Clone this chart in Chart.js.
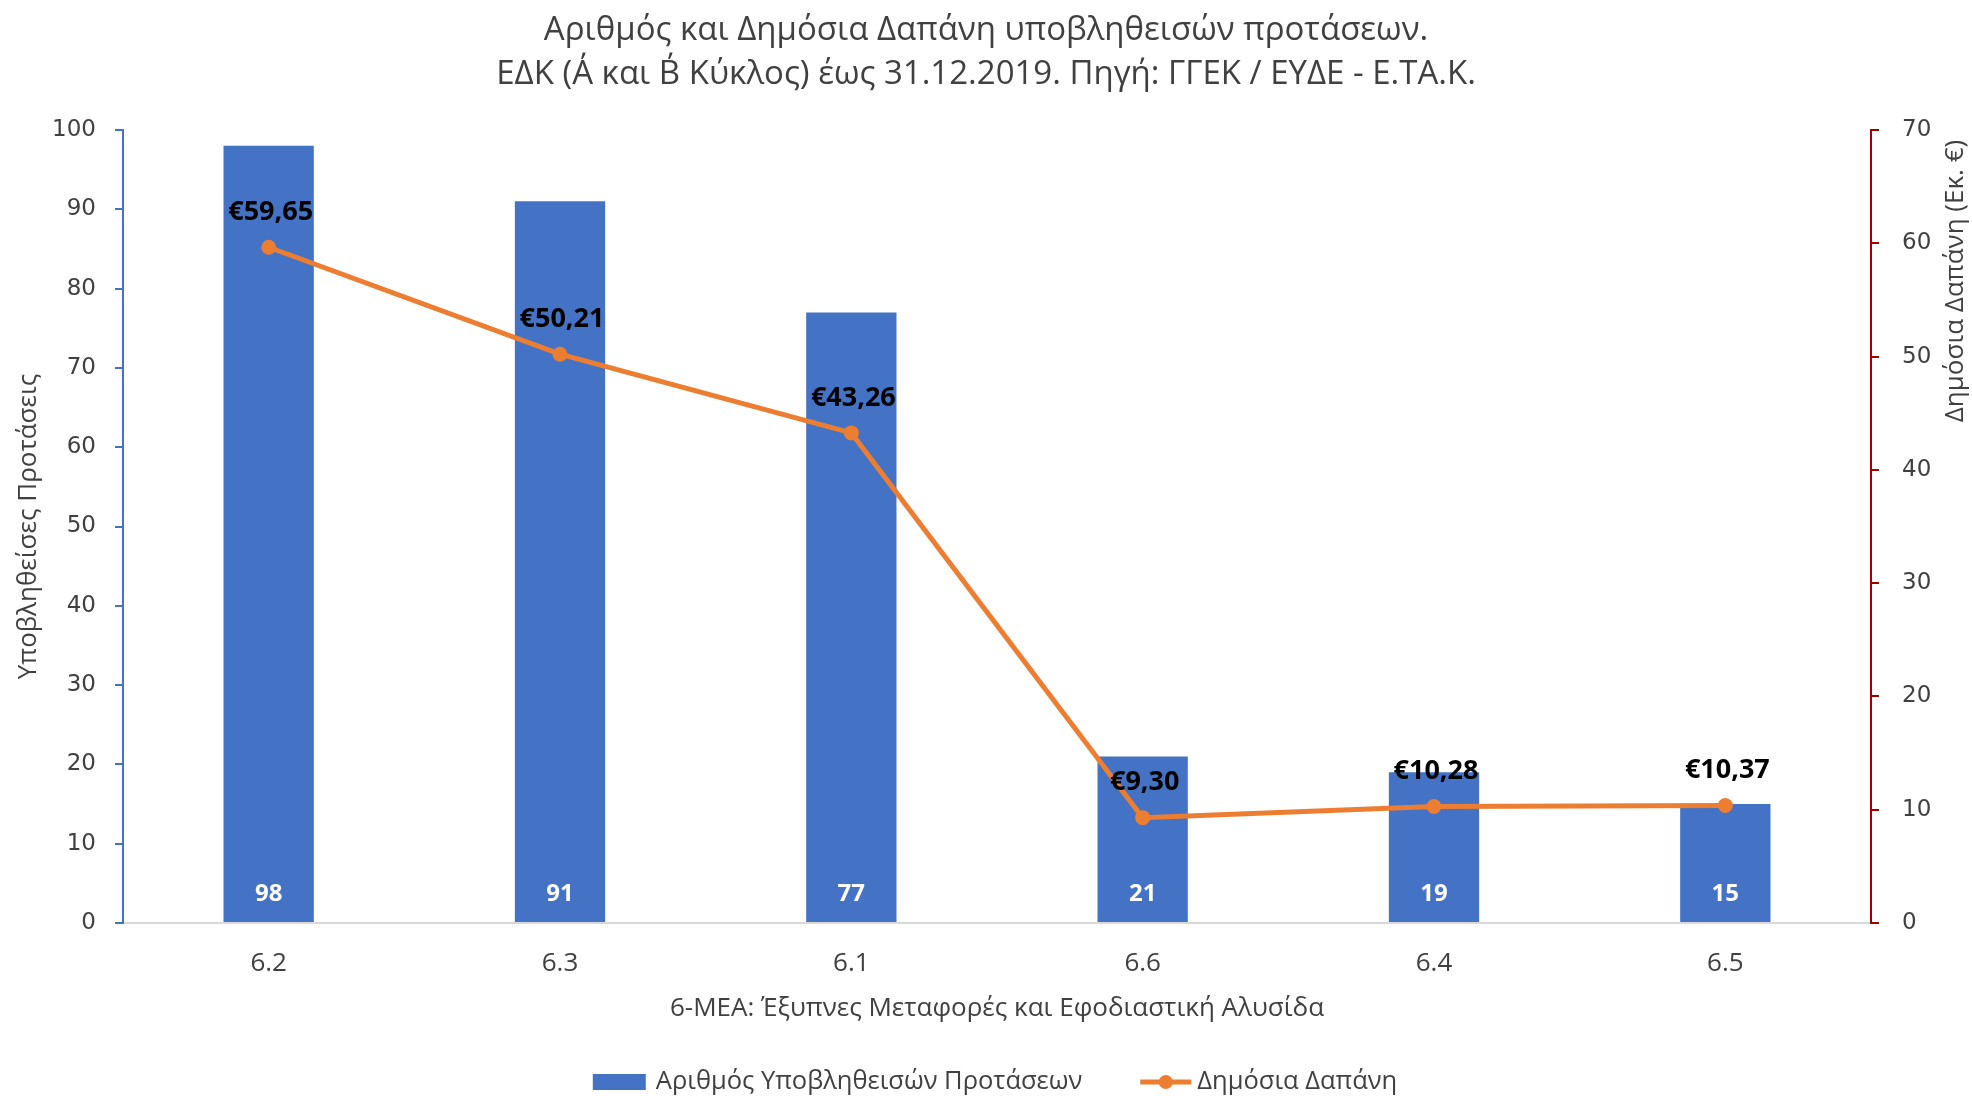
<!DOCTYPE html>
<html><head><meta charset="utf-8">
<script src="https://cdn.jsdelivr.net/npm/chart.js@4.4.1/dist/chart.umd.min.js"></script>
<style>html,body{margin:0;padding:0;background:#fff;}#wrap{width:1972px;height:1096px;}</style>
</head><body><div id="wrap"><canvas id="c" width="1972" height="1096"></canvas></div>
<script>
const categories = ['6.2', '6.3', '6.1', '6.6', '6.4', '6.5'];
const proposals = [98, 91, 77, 21, 19, 15];
const spending = [59.65, 50.21, 43.26, 9.30, 10.28, 10.37];
const titleLines = ['Αριθμός και Δημόσια Δαπάνη υποβληθεισών προτάσεων.', 'ΕΔΚ (Α΄ και Β΄ Κύκλος) έως 31.12.2019. Πηγή: ΓΓΕΚ / ΕΥΔΕ - Ε.ΤΑ.Κ.'];
const xTitle = '6-ΜΕΑ: Έξυπνες Μεταφορές και Εφοδιαστική Αλυσίδα';
const yLeftTitle = 'Υποβληθείσες Προτάσεις';
const yRightTitle = 'Δημόσια Δαπάνη (Εκ. €)';
const seriesNames = ['Αριθμός Υποβληθεισών Προτάσεων', 'Δημόσια Δαπάνη'];

const BLUE = '#4472C4', ORANGE = '#ED7D31', RED = '#A00000', TXT = '#404040';
const MAIN = '"Open Sans", "Noto Sans", sans-serif';
const TICKF = '"DejaVu Sans", sans-serif';

const fmtEuro = v => '€' + v.toFixed(2).replace('.', ',');

const labelsPlugin = {
  id: 'labelsPlugin',
  afterDatasetsDraw(chart) {
    const ctx = chart.ctx;
    const yL = chart.scales.y;
    ctx.save();
    const barMeta = chart.getDatasetMeta(0);
    ctx.font = 'bold 24px ' + MAIN;
    ctx.fillStyle = '#FFFFFF';
    ctx.textAlign = 'center';
    ctx.textBaseline = 'middle';
    barMeta.data.forEach((el, i) => {
      ctx.fillText(String(proposals[i]), el.x, yL.getPixelForValue(0) - 29);
    });
    const lineMeta = chart.getDatasetMeta(1);
    ctx.fillStyle = '#000000';
    ctx.font = 'bold 27px ' + MAIN;
    lineMeta.data.forEach((el, i) => {
      ctx.fillText(fmtEuro(spending[i]), el.x + 2, el.y - 35);
    });
    ctx.restore();
  },
  afterDraw(chart) {
    const ctx = chart.ctx;
    ctx.save();
    ctx.fillStyle = TXT;
    ctx.font = '33px ' + MAIN;
    ctx.textAlign = 'center';
    ctx.textBaseline = 'middle';
    const cx = 986;
    ctx.fillText(titleLines[0], cx, 31);
    ctx.fillText(titleLines[1], cx, 75);
    // right axis title (reads bottom-to-top, near top)
    ctx.save();
    ctx.font = '26px ' + MAIN;
    ctx.translate(1956, 281);
    ctx.rotate(-Math.PI / 2);
    ctx.fillText(yRightTitle, 0, 0);
    ctx.restore();
    // legend
    ctx.font = '25.5px ' + MAIN;
    const w1 = ctx.measureText(seriesNames[0]).width;
    const w2 = ctx.measureText(seriesNames[1]).width;
    const total = 53 + 10 + w1 + 58 + 51 + 6 + w2;
    let x = 995 - total / 2;
    const ly = 1082;
    ctx.fillStyle = BLUE;
    ctx.fillRect(x, ly - 8, 53, 16);
    x += 63;
    ctx.fillStyle = TXT;
    ctx.textAlign = 'left';
    ctx.fillText(seriesNames[0], x, ly);
    x += w1 + 58;
    ctx.strokeStyle = ORANGE;
    ctx.lineWidth = 5;
    ctx.beginPath(); ctx.moveTo(x, ly); ctx.lineTo(x + 51, ly); ctx.stroke();
    ctx.fillStyle = ORANGE;
    ctx.beginPath(); ctx.arc(x + 25.5, ly, 7, 0, Math.PI * 2); ctx.fill();
    x += 57;
    ctx.fillStyle = TXT;
    ctx.fillText(seriesNames[1], x, ly);
    ctx.restore();
  }
};

new Chart(document.getElementById('c'), {
  data: {
    labels: categories,
    datasets: [
      { type: 'bar', label: seriesNames[0], data: proposals, backgroundColor: BLUE, yAxisID: 'y',
        barPercentage: 1, categoryPercentage: 0.31, order: 2 },
      { type: 'line', label: seriesNames[1], data: spending, borderColor: ORANGE, backgroundColor: ORANGE,
        borderWidth: 5, pointRadius: 7.5, pointHoverRadius: 7.5, pointBackgroundColor: ORANGE, pointBorderWidth: 0,
        yAxisID: 'y1', tension: 0, order: 1 }
    ]
  },
  options: {
    responsive: false,
    animation: false,
    layout: { padding: { top: 130, left: 0, right: 0, bottom: 0 } },
    plugins: { legend: { display: false }, title: { display: false }, tooltip: { enabled: false } },
    scales: {
      x: {
        grid: { display: false, drawTicks: false },
        border: { display: true, color: '#D9D9D9', width: 2 },
        ticks: { color: TXT, font: { family: MAIN, size: 26 }, padding: 25 },
        title: { display: true, text: xTitle, color: TXT, font: { family: MAIN, size: 26 }, padding: { top: 0, bottom: 72 } },
        afterFit: s => { s.height = 173; }
      },
      y: {
        position: 'left', min: 0, max: 100,
        ticks: { stepSize: 10, color: TXT, font: { family: TICKF, size: 23 }, padding: 19 },
        grid: { drawOnChartArea: false, drawTicks: true, tickLength: 8, color: BLUE, lineWidth: 2 },
        border: { display: true, color: BLUE, width: 2 },
        title: { display: true, text: yLeftTitle, color: TXT, font: { family: MAIN, size: 26 }, padding: { top: 13, bottom: 0 } },
        afterFit: s => { s.width = 123; }
      },
      y1: {
        position: 'right', min: 0, max: 70,
        ticks: { stepSize: 10, color: TXT, font: { family: TICKF, size: 23 }, padding: 23 },
        grid: { drawOnChartArea: false, drawTicks: true, tickLength: 8, color: RED, lineWidth: 2 },
        border: { display: true, color: RED, width: 2 },
        title: { display: false },
        afterFit: s => { s.width = 101; }
      }
    }
  },
  plugins: [labelsPlugin]
});
</script></body></html>
